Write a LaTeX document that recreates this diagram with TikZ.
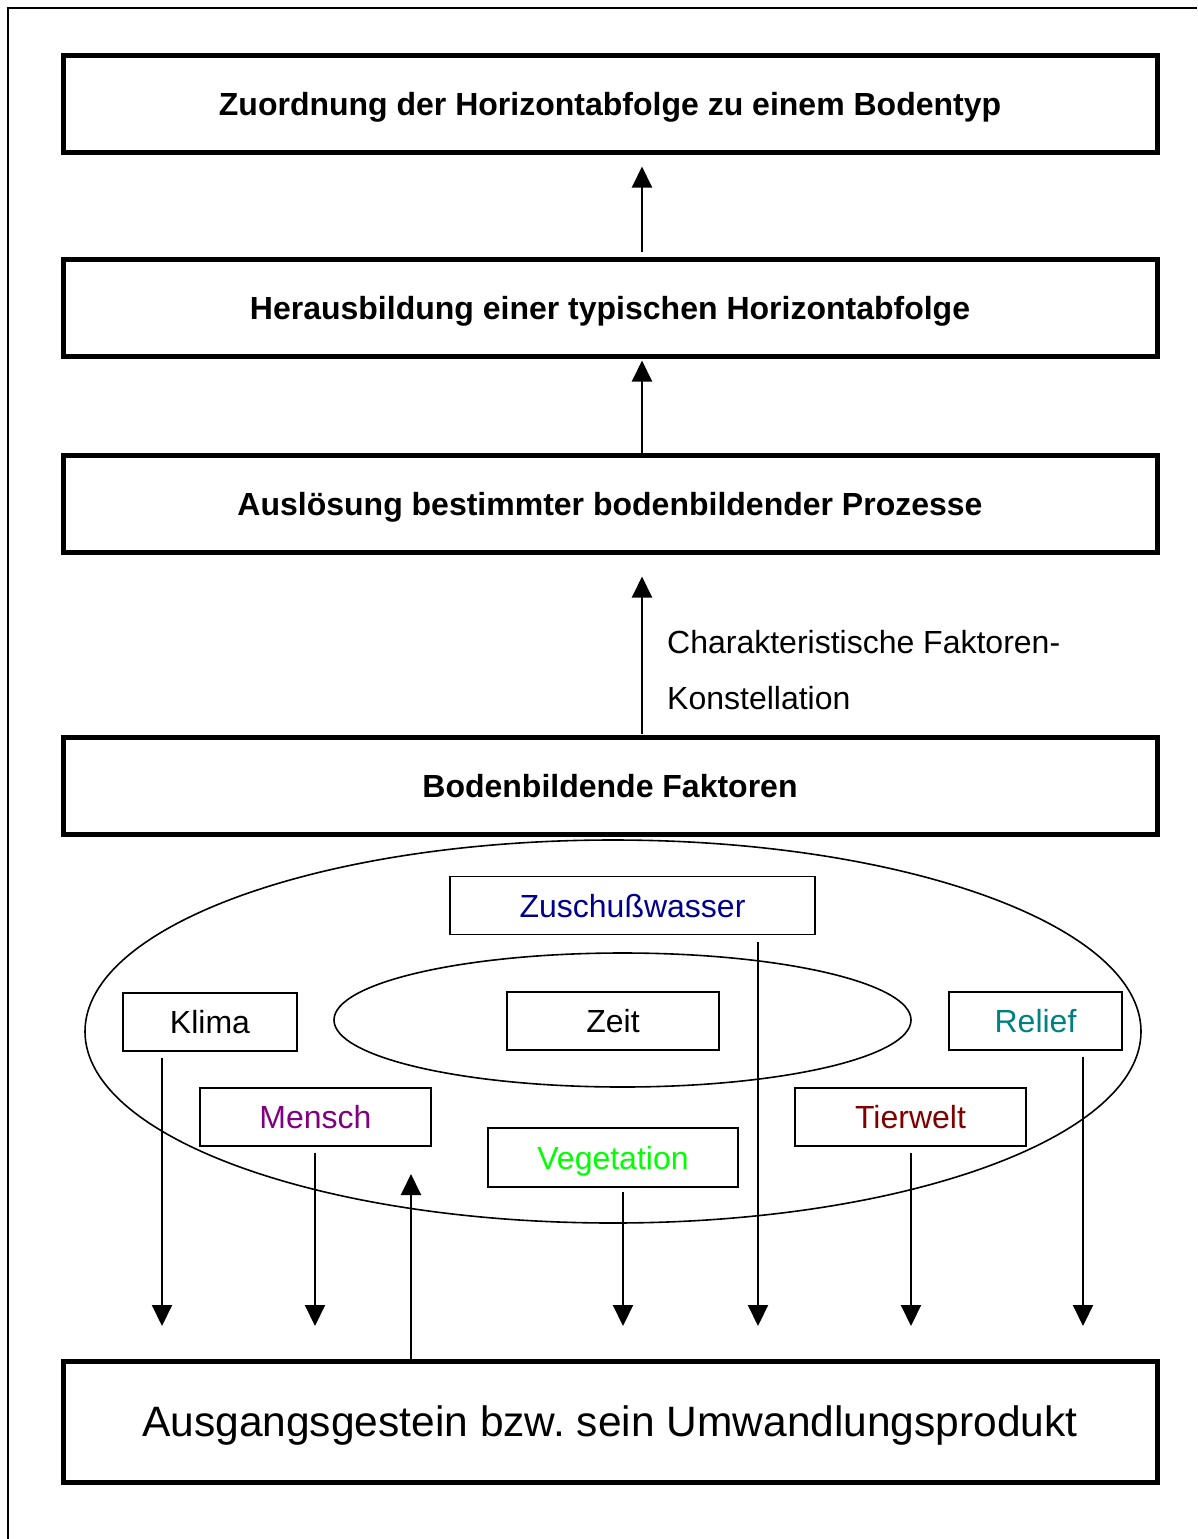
\documentclass[tikz,border=0pt]{standalone}
\usepackage{fontspec}
\setmainfont{Liberation Sans}
\usetikzlibrary{arrows.meta,shapes.geometric}
\definecolor{cnavy}{RGB}{0,0,140}
\definecolor{cpurple}{RGB}{128,0,128}
\definecolor{cgreen}{RGB}{0,255,0}
\definecolor{cdred}{RGB}{128,0,0}
\definecolor{cteal}{RGB}{0,128,128}
\tikzset{
  bigbox/.style={draw, line width=5pt, minimum width=1094pt, minimum height=97pt, inner sep=0pt,
    font=\fontsize{32}{38}\selectfont\bfseries, text height=23pt, text depth=0pt},
  smallbox/.style={draw, line width=1.8pt, inner sep=0pt, minimum height=58pt,
    font=\fontsize{32}{38}\selectfont, text height=23pt, text depth=0pt},
  arr/.style={line width=2pt, -{Triangle[width=20pt,length=21pt]}},
  ell/.style={draw, ellipse, line width=1.6pt, inner sep=0pt},
  labeltext/.style={anchor=base west, inner sep=0pt, font=\fontsize{32}{38}\selectfont}
}
\begin{document}
\frenchspacing
\begin{tikzpicture}[x=1pt,y=-1pt]
\useasboundingbox (0,0) rectangle (1197,1539);
\draw[line width=2pt] (8,1539) -- (8,8) -- (1197,8);

% big boxes
\node[bigbox] (b1) at (610,103.5) {Zuordnung der Horizontabfolge zu einem Bodentyp};
\node[bigbox] (b2) at (610,308) {Herausbildung einer typischen Horizontabfolge};
\node[bigbox] (b3) at (610,503.5) {Auslösung bestimmter bodenbildender Prozesse};
\node[bigbox] (b4) at (610,786) {Bodenbildende Faktoren};
\node[bigbox, minimum height=121pt, font=\fontsize{42.5}{50}\selectfont, text height=30.5pt] (b5) at (610,1421.5) {Ausgangsgestein bzw.\ sein Umwandlungsprodukt};

% vertical axis for main arrows
\coordinate (ax) at (642,0);
\draw[arr, shorten <=5pt, shorten >=12pt] (b2.north -| ax) -- (b1.south -| ax);
\draw[arr, shorten >=1.5pt] (b3.north -| ax) -- (b2.south -| ax);
\draw[arr, shorten <=1.5pt, shorten >=22pt] (b4.north -| ax) -- (b3.south -| ax);

\node[labeltext] (lab1) at (667,653) {Charakteristische Faktoren-};
\node[labeltext] (lab2) at (667,709) {Konstellation};

% ellipses
\node[ell, minimum width=1056pt, minimum height=383pt] (eout) at (613,1031.5) {};
\node[ell, minimum width=577pt, minimum height=134pt] (ein) at (622.5,1020) {};

% small boxes
\node[smallbox, minimum width=365pt, text=cnavy] (zw) at (632.5,905.5) {Zuschußwasser};
\node[smallbox, minimum width=174pt] (kl) at (210,1022) {Klima};
\node[smallbox, minimum width=212pt] (ze) at (613,1021) {Zeit};
\node[smallbox, minimum width=173pt, text=cteal] (re) at (1035.5,1021) {Relief};
\node[smallbox, minimum width=231pt, text=cpurple] (me) at (315.5,1117) {Mensch};
\node[smallbox, minimum width=250pt, minimum height=59pt, text=cgreen] (ve) at (613,1157.5) {Vegetation};
\node[smallbox, minimum width=231pt, text=cdred] (ti) at (910.5,1117) {Tierwelt};

% arrow end points
\coordinate (kle) at (162,1326);
\coordinate (mee) at (315,1326);
\coordinate (vee) at (623,1326);
\coordinate (zwe) at (758,1326);
\coordinate (tie) at (911,1326);
\coordinate (ree) at (1083,1326);
\coordinate (upe) at (411,1174);

\draw[arr, shorten <=6pt] (kl.south -| kle) -- (kle);
\draw[arr, shorten <=6pt] (me.south -| mee) -- (mee);
\draw[arr, shorten <=4pt] (ve.south -| vee) -- (vee);
\draw[arr, shorten <=7pt] (zw.south -| zwe) -- (zwe);
\draw[arr, shorten <=6pt] (ti.south -| tie) -- (tie);
\draw[arr, shorten <=6pt] (re.south -| ree) -- (ree);
\draw[arr] (b5.north -| upe) -- (upe);
\end{tikzpicture}
\end{document}
